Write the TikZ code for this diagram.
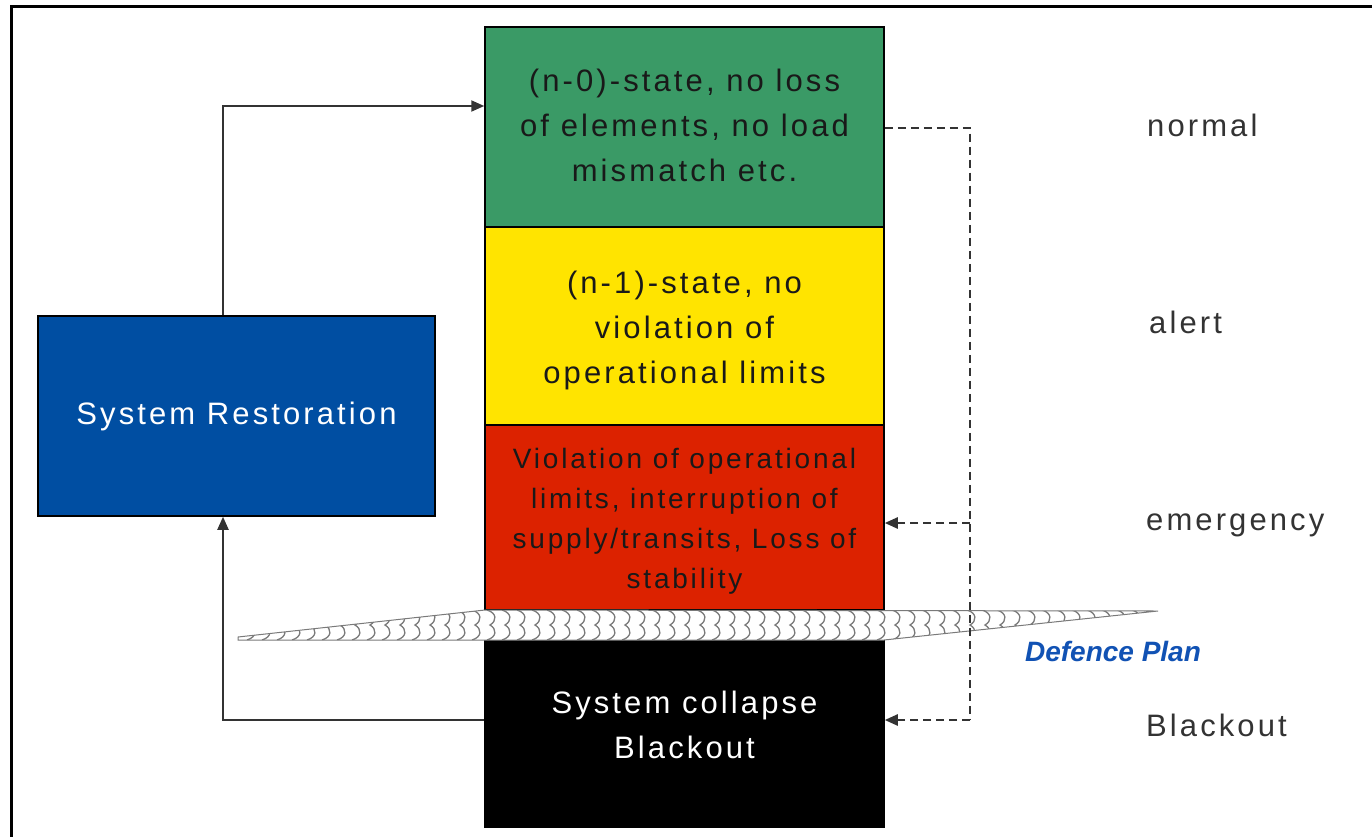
\documentclass[tikz,border=0pt]{standalone}
\usepackage{fontspec}
\setmainfont[LetterSpace=10]{Liberation Sans}
\newfontfamily\planfont{Liberation Sans}
\usetikzlibrary{arrows.meta}
\definecolor{stgreen}{HTML}{3A9A66}
\definecolor{styellow}{HTML}{FFE400}
\definecolor{stred}{HTML}{DC2200}
\definecolor{stblue}{HTML}{004EA2}
\definecolor{linegray}{HTML}{333333}
\definecolor{plblue}{HTML}{1152B4}
\definecolor{braid}{HTML}{7A7A7A}
\tikzset{
  statebox/.style={draw=black, line width=1.5pt, inner sep=0pt, minimum width=399pt},
  statetext/.style={inner sep=0pt, align=center, font=\fontsize{31}{45}\selectfont},
  levellabel/.style={anchor=west, inner sep=0pt, text=linegray, font=\fontsize{31}{40}\selectfont},
  flow/.style={draw=linegray, line width=2pt, -{Triangle[length=13pt,width=11pt]}},
  dashline/.style={draw=linegray, line width=2.4pt, dash pattern=on 8pt off 5pt},
  dashflow/.style={dashline, -{Triangle[length=13pt,width=11pt]}}
}
\begin{document}
\begin{tikzpicture}[x=1pt,y=-1pt]
\useasboundingbox (0,0) rectangle (1372,837);
\fill[white] (0,0) rectangle (1372,837);

% outer frame
\draw[line width=3pt] (11,837) -- (11,7) -- (1372,7);

% operating states
\node[statebox, fill=stgreen, minimum height=200pt] (n0) at (684.5,127) {};
\node[statebox, fill=styellow, minimum height=198pt] (n1) at (684.5,326) {};
\node[statebox, fill=stred, minimum height=185pt] (em) at (684.5,517.5) {};
\node[statebox, fill=black, minimum height=187pt] (bo) at (684.5,733.5) {};

\node[statetext, text=black!90] (n0txt) at (684.5,125)
  {(n-0)-state, no loss\\of elements, no load\\mismatch etc.};
\node[statetext, text=black!90] (n1txt) at (684.5,330)
  {(n-1)-state, no\\violation of\\operational limits};
\node[statetext, text=black!90, font=\fontsize{28}{40}\selectfont] (emtxt) at (684.5,521)
  {Violation of operational\\limits, interruption of\\supply/transits, Loss of\\stability};
\node[statetext, text=white] (botxt) at (684.5,725)
  {System collapse\\Blackout};

% restoration
\node[statebox, fill=stblue, minimum width=397pt, minimum height=200pt, text=white,
  statetext] (rest) at (236.5,416) {System Restoration};

% defence plan band
\begin{scope}
  \clip (238,637) -- (485,610) -- (1158,611) -- (884,640) -- (238,640) -- cycle;
  \fill[white] (230,600) rectangle (1170,650);
  \foreach \x in {232,247,...,1170}
    \draw[braid, line width=1.3pt]
      (\x,610) .. controls (\x+10,613) and (\x+10,621) .. (\x+3,625)
               .. controls (\x+10,629) and (\x+10,637) .. (\x,640);
\end{scope}
\draw[braid, line width=1pt] (238,637) -- (485,610) -- (1158,611) -- (884,640) -- (238,640) -- cycle;
\node[inner sep=0pt, text=plblue, font=\planfont\fontsize{28}{30}\selectfont\bfseries\itshape] (plan)
  at (1113,651) {Defence Plan};

% level labels
\node[levellabel] (lnormal) at (1147,125) {normal};
\node[levellabel] (lalert) at (1149,322) {alert};
\node[levellabel] (lemerg) at (1146,525) {emergency};
\node[levellabel] (lblack) at (1146,725) {Blackout};

% restoration loop
\draw[flow] ([xshift=-13.5pt]rest.north) |- ([yshift=21pt]n0.west);
\draw[flow] ([yshift=13.5pt]bo.west) -| ([xshift=-13.5pt]rest.south);

% escalation paths
\coordinate (dtop) at (970,128);
\coordinate (dmid) at (970,523);
\coordinate (dbot) at (970,720);
\draw[dashline] (n0.east |- dtop) -- (dtop) -- (dbot);
\draw[dashflow] (dbot) -- (bo.east |- dbot);
\draw[dashflow] (dmid) -- (em.east |- dmid);
\end{tikzpicture}
\end{document}
